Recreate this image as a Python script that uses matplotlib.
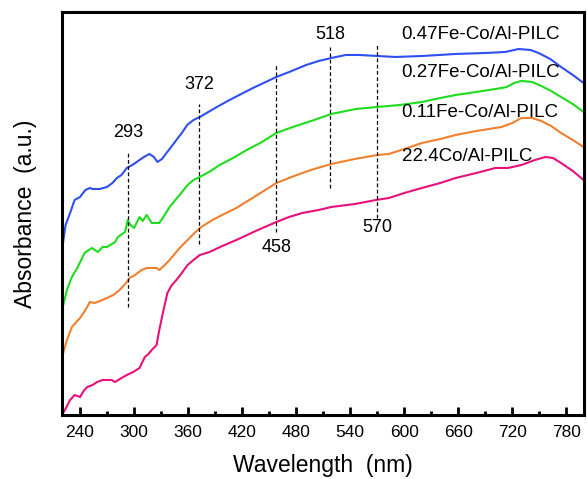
import matplotlib
matplotlib.use("Agg")
import matplotlib.pyplot as plt
from matplotlib.ticker import MultipleLocator

plt.rcParams['font.family'] = ['Liberation Sans', 'DejaVu Sans']

# Diffuse-reflectance UV-vis spectra (arbitrary absorbance units, offset stack)
wl_047 = [220, 224, 229, 234, 240, 246, 251, 254, 262, 270, 276, 281, 286, 292, 298, 303,
          306, 311, 317, 322, 326, 331, 336, 342, 347, 353, 359, 366, 373, 390, 406, 432,
          458, 475, 491, 505, 519, 535, 550, 570, 590, 620, 657, 690, 712, 727, 740, 749,
          762, 774, 787, 799]
abs_047 = [1.65, 1.90, 2.02, 2.15, 2.18, 2.25, 2.27, 2.26, 2.26, 2.28, 2.32, 2.37, 2.40, 2.47, 2.50, 2.53,
           2.55, 2.58, 2.61, 2.58, 2.53, 2.56, 2.62, 2.69, 2.75, 2.82, 2.90, 2.95, 2.98, 3.07, 3.15, 3.27,
           3.38, 3.44, 3.50, 3.54, 3.57, 3.60, 3.60, 3.59, 3.58, 3.59, 3.61, 3.62, 3.63, 3.66, 3.65, 3.62,
           3.56, 3.48, 3.40, 3.32]

wl_027 = [220, 225.5, 231, 237, 245, 253, 260, 265, 270, 279, 282, 290, 293, 296, 300, 306, 309.6,
          314, 319.6, 328, 334, 339.5, 345, 350.6, 359.4, 366, 373, 385, 395, 410, 425, 440, 458,
          470, 483, 500, 519, 546, 570, 595, 619.5, 640, 657, 680, 708, 713.5, 722, 730, 742,
          752, 763, 774, 787, 799]
abs_027 = [1.05, 1.25, 1.38, 1.47, 1.62, 1.67, 1.63, 1.68, 1.68, 1.73, 1.78, 1.83, 1.95, 1.90, 1.87, 1.98, 1.94,
           2.00, 1.92, 1.92, 2.00, 2.08, 2.14, 2.20, 2.30, 2.35, 2.38, 2.44, 2.50, 2.57, 2.65, 2.72, 2.82,
           2.86, 2.90, 2.95, 3.01, 3.06, 3.08, 3.10, 3.13, 3.17, 3.20, 3.23, 3.27, 3.28, 3.32, 3.34, 3.33,
           3.29, 3.24, 3.18, 3.11, 3.03]

wl_011 = [220, 225.5, 231, 240, 246, 251, 256.5, 262, 270, 277, 284, 292, 295, 301, 308.5, 314, 320,
          325, 328, 334, 339.5, 345, 350.6, 359.4, 366, 373, 387, 400, 413.6, 435, 458, 472, 486.7,
          500, 519, 545, 570, 583, 600, 619.5, 640, 657, 680, 708, 720, 730, 742, 752, 763, 774,
          787, 799]
abs_011 = [0.58, 0.75, 0.88, 0.97, 1.05, 1.13, 1.12, 1.14, 1.17, 1.20, 1.25, 1.33, 1.37, 1.40, 1.45, 1.47, 1.47,
           1.47, 1.45, 1.50, 1.55, 1.61, 1.67, 1.75, 1.81, 1.87, 1.95, 2.01, 2.07, 2.19, 2.32, 2.37, 2.42,
           2.46, 2.51, 2.56, 2.60, 2.61, 2.66, 2.72, 2.76, 2.80, 2.84, 2.88, 2.92, 2.97, 2.97, 2.94, 2.89, 2.82,
           2.75, 2.68]

wl_co = [220, 222, 225, 229, 234, 240, 244, 248, 254, 259, 265, 270, 275, 279, 286, 292, 299,
         306, 312, 316, 319.6, 325, 328, 332, 337, 342, 347, 353, 359.4, 366, 373, 383.8, 398,
         413.6, 435, 458, 472, 486.7, 505, 519, 545, 568.6, 583, 600, 619.5, 640, 657, 680, 701,
         715, 730, 745, 756.7, 765, 774, 787, 799]
abs_co = [0.10, 0.03, 0.08, 0.15, 0.20, 0.18, 0.24, 0.28, 0.30, 0.33, 0.35, 0.35, 0.35, 0.33, 0.37, 0.40, 0.43,
          0.47, 0.58, 0.61, 0.65, 0.70, 0.85, 1.02, 1.22, 1.30, 1.35, 1.42, 1.50, 1.55, 1.60, 1.63, 1.69,
          1.75, 1.84, 1.93, 1.98, 2.02, 2.05, 2.08, 2.11, 2.15, 2.17, 2.22, 2.27, 2.32, 2.37, 2.42, 2.47,
          2.47, 2.50, 2.55, 2.58, 2.57, 2.52, 2.44, 2.35]

series_names = ["0.47Fe-Co/Al-PILC", "0.27Fe-Co/Al-PILC", "0.11Fe-Co/Al-PILC", "22.4Co/Al-PILC"]
series_colors = ["#2f4ff0", "#1edc1e", "#f08030", "#e8107a"]
name_y = [3.80, 3.42, 3.02, 2.58]

# Marked band positions (nm) with dashed guide extents and label heights
peak_wl = [293, 372, 458, 518, 570]
peak_lo = [1.08, 1.71, 1.83, 2.27, 1.97]
peak_hi = [2.64, 3.11, 3.51, 3.68, 3.72]
peak_label_y = [2.82, 3.30, 1.67, 3.80, 1.87]

fig = plt.figure(figsize=(5.87, 4.79), dpi=100)
ax = fig.add_axes([0.1056, 0.1336, 0.8901, 0.8414])

curves = [(wl_047, abs_047), (wl_027, abs_027), (wl_011, abs_011), (wl_co, abs_co)]
for (x, y), c in zip(curves, series_colors):
    ax.plot(x, y, color=c, lw=1.5)

for name, yy in zip(series_names, name_y):
    ax.text(597, yy, name, fontsize=13.5, ha='left', va='center', color='black')

for w, lo, hi, ly in zip(peak_wl, peak_lo, peak_hi, peak_label_y):
    ax.plot([w, w], [lo, hi], color='black', lw=0.9, ls=(0, (3, 2)))
    ax.text(w, ly, str(w), fontsize=13, ha='center', va='center')

ax.set_xlim(220, 800)
ax.set_ylim(0, 4.03)
ax.xaxis.set_minor_locator(MultipleLocator(30))
ax.set_xticks(range(240, 800, 60))
ax.set_yticks([])
ax.tick_params(axis='x', which='major', direction='in', length=6, width=2, labelsize=12.5, pad=7)
ax.tick_params(axis='x', which='minor', direction='in', length=3, width=2)
for s in ax.spines.values():
    s.set_linewidth(2.2)

ax.set_xlabel("Wavelength  (nm)", fontsize=16.5, labelpad=10)
ax.set_ylabel("Absorbance  (a.u.)", fontsize=16.5, labelpad=18)

fig.savefig("out.png", dpi=100)
